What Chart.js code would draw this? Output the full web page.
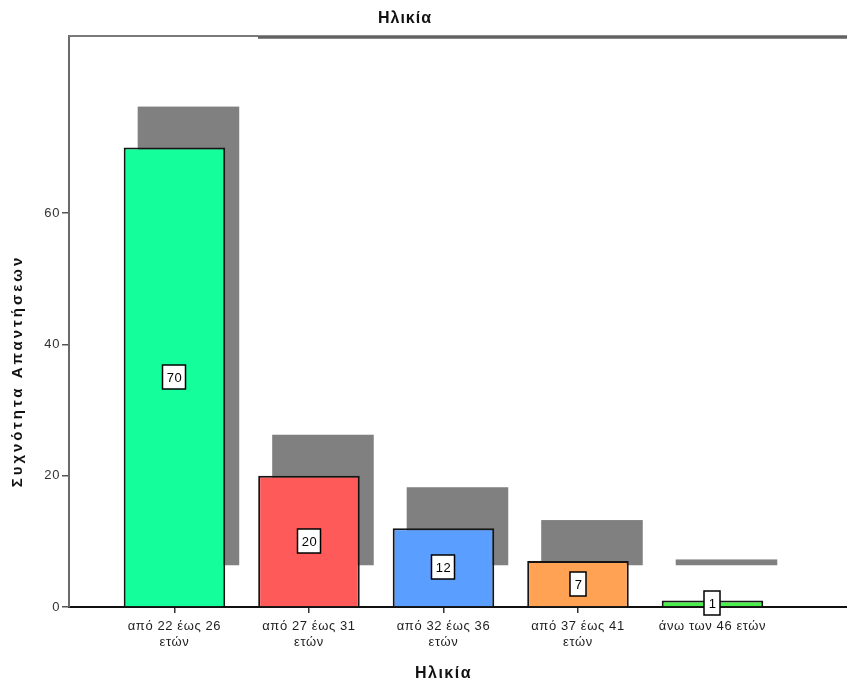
<!DOCTYPE html>
<html>
<head>
<meta charset="utf-8">
<title>Ηλικία</title>
<script src="https://cdn.jsdelivr.net/npm/chart.js@4/dist/chart.umd.min.js"></script>
<style>
  html, body { margin: 0; padding: 0; background: #ffffff; }
  canvas { display: block; }
</style>
</head>
<body>
<canvas id="chart" width="847" height="686"></canvas>
<script>
// ---- data ----
const chartTitle = 'Ηλικία';
const xTitle = 'Ηλικία';
const yTitle = 'Συχνότητα Απαντήσεων';
const categories = [
  ['από 22 έως 26', 'ετών'],
  ['από 27 έως 31', 'ετών'],
  ['από 32 έως 36', 'ετών'],
  ['από 37 έως 41', 'ετών'],
  ['άνω των 46 ετών']
];
const frequencies = [70, 20, 12, 7, 1];
const barColors = ['#14ff9c', '#ff5a5a', '#5a9eff', '#ffa254', '#4cf04c'];
const yTicks = [0, 20, 40, 60];
const yMax = 87;

// depth of the 3D back face of each bar, in pixels
const DEPTH_X = 14;
const DEPTH_Y = 41;

Chart.defaults.font.family = "'Liberation Sans', Arial, sans-serif";

const spssLook = {
  id: 'spssLook',
  beforeDraw(chart) {
    chart.ctx.letterSpacing = '0.6px';
  },
  beforeDatasetsDraw(chart) {
    const ctx = chart.ctx;
    const meta = chart.getDatasetMeta(0);
    ctx.save();
    ctx.fillStyle = '#808080';
    meta.data.forEach(bar => {
      const p = bar.getProps(['x', 'y', 'base', 'width'], true);
      ctx.fillRect(p.x - p.width / 2 + DEPTH_X, p.y - DEPTH_Y, p.width, p.base - p.y);
    });
    ctx.restore();
  },
  afterDatasetsDraw(chart) {
    const ctx = chart.ctx;
    const meta = chart.getDatasetMeta(0);
    ctx.save();
    ctx.letterSpacing = '0.5px';
    ctx.font = "13px 'Liberation Sans', Arial, sans-serif";
    ctx.textAlign = 'center';
    ctx.textBaseline = 'middle';
    meta.data.forEach((bar, i) => {
      const p = bar.getProps(['x', 'y', 'base'], true);
      const txt = String(frequencies[i]);
      const tw = ctx.measureText(txt).width;
      const w = Math.round(tw + 8), h = 24;
      const cx = Math.round(p.x), cy = Math.round((p.y + p.base) / 2);
      ctx.fillStyle = '#ffffff';
      ctx.fillRect(cx - w / 2, cy - h / 2, w, h);
      ctx.strokeStyle = '#000000';
      ctx.lineWidth = 1.5;
      ctx.strokeRect(cx - w / 2, cy - h / 2, w, h);
      ctx.fillStyle = '#000000';
      ctx.fillText(txt, cx + 0.5, cy + 1);
    });
    ctx.restore();
  },
  afterDraw(chart) {
    const ctx = chart.ctx;
    const a = chart.chartArea;
    ctx.save();
    // top frame line with its raised section
    ctx.strokeStyle = '#7a7a7a';
    ctx.lineWidth = 2;
    ctx.beginPath();
    ctx.moveTo(a.left, a.top);
    ctx.lineTo(a.right, a.top);
    ctx.stroke();
    ctx.strokeStyle = '#8a8a8a';
    ctx.lineWidth = 4;
    ctx.beginPath();
    ctx.moveTo(a.left + 189, a.top + 1);
    ctx.lineTo(a.right, a.top + 1);
    ctx.stroke();
    ctx.strokeStyle = '#555555';
    ctx.lineWidth = 1.5;
    ctx.beginPath();
    ctx.moveTo(a.left + 189, a.top + 1);
    ctx.lineTo(a.right, a.top + 1);
    ctx.stroke();

    // chart title
    ctx.fillStyle = '#111111';
    ctx.textAlign = 'center';
    ctx.textBaseline = 'middle';
    ctx.letterSpacing = '1px';
    ctx.font = "bold 16px 'Liberation Sans', Arial, sans-serif";
    ctx.fillText(chartTitle, 405, 19);

    // x axis title, centred over the categories
    const xs = chart.scales.x;
    const xc = (xs.getPixelForValue(0) + xs.getPixelForValue(categories.length - 1)) / 2;
    ctx.letterSpacing = '1.5px';
    ctx.font = "bold 16px 'Liberation Sans', Arial, sans-serif";
    ctx.fillText(xTitle, xc, 674);

    // y axis title
    ctx.translate(18, 371);
    ctx.rotate(-Math.PI / 2);
    ctx.letterSpacing = '3px';
    ctx.font = "bold 15px 'Liberation Sans', Arial, sans-serif";
    ctx.fillText(yTitle, 0, 0);
    ctx.restore();
    ctx.letterSpacing = '0px';
  }
};

new Chart(document.getElementById('chart'), {
  type: 'bar',
  data: {
    datasets: [{
      label: 'Συχνότητα',
      data: frequencies.map((v, i) => ({ x: i, y: v })),
      backgroundColor: barColors,
      borderColor: '#151515',
      borderWidth: 2,
      categoryPercentage: 1,
      barPercentage: 0.755
    }]
  },
  options: {
    responsive: false,
    animation: false,
    events: [],
    layout: { padding: { top: 36, left: 0, right: 0, bottom: 0 } },
    plugins: {
      legend: { display: false },
      tooltip: { enabled: false },
      title: { display: false }
    },
    scales: {
      x: {
        type: 'linear',
        offset: false,
        min: -0.784,
        max: 5.0,
        afterBuildTicks: s => { s.ticks = categories.map((_, i) => ({ value: i })); },
        afterFit: s => { s.height = 79; },
        ticks: {
          callback: v => categories[v],
          color: '#1e1e1e',
          font: { size: 13 },
          padding: 6,
          maxRotation: 0,
          autoSkip: false
        },
        grid: { offset: false, drawOnChartArea: false, drawTicks: true, tickLength: 6, color: '#333333', lineWidth: 1.5 },
        border: { display: true, color: '#111111', width: 2 }
      },
      y: {
        min: 0,
        max: yMax,
        afterBuildTicks: s => { s.ticks = yTicks.map(v => ({ value: v })); },
        afterFit: s => { s.width = 69; },
        ticks: { color: '#333333', font: { size: 13 }, padding: 2 },
        grid: { drawOnChartArea: false, drawTicks: true, tickLength: 7, color: '#555555', lineWidth: 1.5 },
        border: { display: true, color: '#6a6a6a', width: 2 }
      }
    }
  },
  plugins: [spssLook]
});
</script>
</body>
</html>
